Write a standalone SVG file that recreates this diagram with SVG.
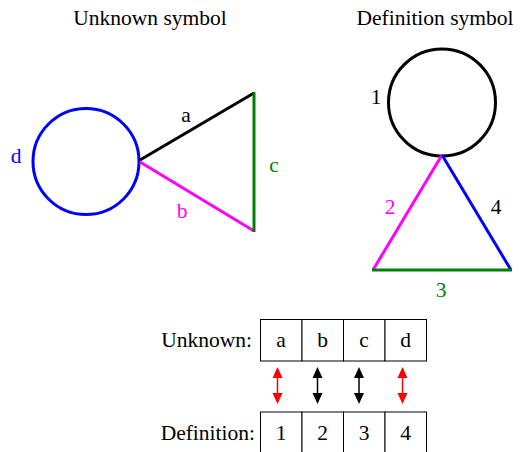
<svg xmlns="http://www.w3.org/2000/svg" width="525" height="452" viewBox="0 0 525 452">
<style>
text{font-family:"Liberation Serif","Times New Roman",serif;font-size:21.5px;}
.c{text-anchor:middle}
.r{text-anchor:end}
.thick{fill:none;stroke-width:3;stroke-linecap:butt}
.box{fill:#fff;stroke:#000;stroke-width:1}
</style>
<rect width="525" height="452" fill="#fff"/>
<text class="c" x="150" y="25">Unknown symbol</text>
<text class="c" x="435" y="25">Definition symbol</text>
<g id="unknown-symbol">
<circle class="thick" cx="86" cy="161.5" r="53" stroke="#0000ff"/>
<line class="thick" x1="140" y1="160" x2="254" y2="93" stroke="#000"/>
<line class="thick" x1="140" y1="162" x2="254" y2="231" stroke="#ff00ff"/>
<line class="thick" x1="254" y1="92" x2="254" y2="232" stroke="#008000"/>
<text class="c" x="186" y="122">a</text>
<text class="c" x="182" y="218" fill="#ff00ff">b</text>
<text class="c" x="274" y="172" fill="#008000">c</text>
<text class="c" x="16" y="163" fill="#0000ff">d</text>
</g>
<g id="definition-symbol">
<circle class="thick" cx="442" cy="102.5" r="53.5" stroke="#000"/>
<line class="thick" x1="442" y1="155" x2="373" y2="270" stroke="#ff00ff"/>
<line class="thick" x1="442" y1="155" x2="511" y2="270" stroke="#0000ff"/>
<line class="thick" x1="372" y1="270" x2="512" y2="270" stroke="#008000"/>
<text class="c" x="376" y="104">1</text>
<text class="c" x="390" y="214" fill="#ff00ff">2</text>
<text class="c" x="441" y="297" fill="#008000">3</text>
<text class="c" x="496" y="214">4</text>
</g>
<g id="unknown-row">
<text class="r" x="252" y="347">Unknown:</text>
<rect class="box" x="260.5" y="319.5" width="41.5" height="41.5"/>
<rect class="box" x="302" y="319.5" width="41.5" height="41.5"/>
<rect class="box" x="343.5" y="319.5" width="41.5" height="41.5"/>
<rect class="box" x="385" y="319.5" width="41.5" height="41.5"/>
<text class="c" x="281" y="347">a</text>
<text class="c" x="322.5" y="347">b</text>
<text class="c" x="364" y="347">c</text>
<text class="c" x="405.5" y="347">d</text>
</g>
<g id="definition-row">
<text class="r" x="255" y="440">Definition:</text>
<rect class="box" x="260.5" y="412" width="41.5" height="45"/>
<rect class="box" x="302" y="412" width="41.5" height="45"/>
<rect class="box" x="343.5" y="412" width="41.5" height="45"/>
<rect class="box" x="385" y="412" width="41.5" height="45"/>
<text class="c" x="281" y="440">1</text>
<text class="c" x="322.5" y="440">2</text>
<text class="c" x="364" y="440">3</text>
<text class="c" x="405.5" y="440">4</text>
</g>
<g id="connectors">
<g fill="#ff0000" stroke="#ff0000">
<line x1="277.5" y1="375" x2="277.5" y2="395" stroke-width="1.5"/>
<polygon points="277.5,367 272.5,378 282.5,378" stroke="none"/>
<polygon points="277.5,404 272.5,393 282.5,393" stroke="none"/>
<line x1="402.5" y1="375" x2="402.5" y2="395" stroke-width="1.5"/>
<polygon points="402.5,367 397.5,378 407.5,378" stroke="none"/>
<polygon points="402.5,404 397.5,393 407.5,393" stroke="none"/>
</g>
<g fill="#000" stroke="#000">
<line x1="317.5" y1="375" x2="317.5" y2="395" stroke-width="1.5"/>
<polygon points="317.5,367 312.5,378 322.5,378" stroke="none"/>
<polygon points="317.5,404 312.5,393 322.5,393" stroke="none"/>
<line x1="359" y1="375" x2="359" y2="395" stroke-width="1.5"/>
<polygon points="359,367 354,378 364,378" stroke="none"/>
<polygon points="359,404 354,393 364,393" stroke="none"/>
</g>
</g>
</svg>
